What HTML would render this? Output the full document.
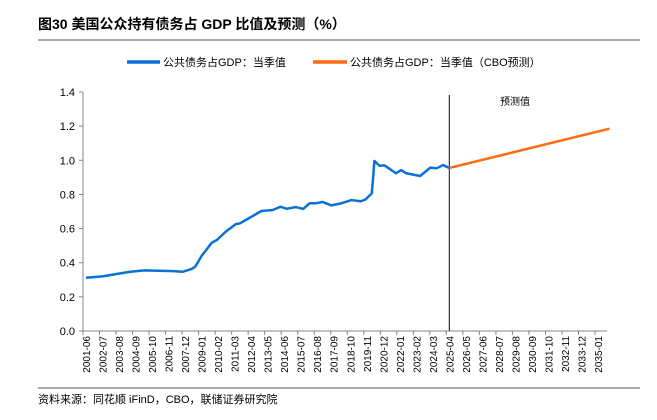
<!DOCTYPE html>
<html><head><meta charset="utf-8"><style>
body{margin:0;background:#fff;width:657px;height:415px;overflow:hidden;font-family:"Liberation Sans","Noto Sans CJK SC",sans-serif;}
svg text{font-family:"Liberation Sans","Noto Sans CJK SC",sans-serif;}
</style></head><body>
<svg id="c" width="657" height="415">
<text x="38" y="29" font-size="14" font-weight="bold" fill="#000">图30 美国公众持有债务占 GDP 比值及预测（%）</text>
<line x1="38" y1="40" x2="640" y2="40" stroke="#555" stroke-width="1"/>
<line x1="38" y1="388" x2="640" y2="388" stroke="#555" stroke-width="1"/>
<text x="38" y="403" font-size="11" fill="#000">资料来源：同花顺 iFinD，CBO，联储证券研究院</text>
<g>
<line x1="127" y1="62" x2="160" y2="62" stroke="#0a72d6" stroke-width="3.5"/>
<text x="163" y="66" font-size="11">公共债务占GDP：当季值</text>
<line x1="313" y1="62" x2="347" y2="62" stroke="#ff6a13" stroke-width="3.5"/>
<text x="350" y="66" font-size="11">公共债务占GDP：当季值（CBO预测）</text>
</g>
<text x="500" y="105" font-size="10">预测值</text>
<g id="plot"></g>
</svg>
<script>
const actualDates=["2001-06","2002-07","2003-06","2004-05","2005-04","2007-03","2007-10","2008-05","2008-08","2009-01","2009-09","2010-01","2010-08","2011-04","2011-07","2012-03","2012-12","2013-09","2014-03","2014-08","2015-03","2015-09","2016-02","2016-07","2016-12","2017-07","2018-02","2018-11","2019-06","2019-10","2020-03","2020-05","2020-09","2021-01","2021-10","2022-02","2022-06","2023-05","2024-01","2024-06","2024-11","2025-04"];
const actualValues=[0.312,0.32,0.334,0.347,0.355,0.351,0.347,0.363,0.377,0.44,0.517,0.533,0.582,0.627,0.63,0.664,0.703,0.709,0.728,0.716,0.726,0.715,0.748,0.748,0.756,0.736,0.746,0.767,0.76,0.77,0.807,0.996,0.968,0.97,0.924,0.943,0.924,0.908,0.957,0.953,0.972,0.955];
const forecastDates=["2025-04","2035-10"];
const forecastValues=[0.955,1.185];
const forecastStart="2025-04";
const yTicks=[0,0.2,0.4,0.6,0.8,1.0,1.2,1.4];
const xTickLabels=[];
for(let i=0;i<32;i++){const m=5+i*13;xTickLabels.push((2001+Math.floor(m/12))+"-"+String(m%12+1).padStart(2,"0"));}
const NS="http://www.w3.org/2000/svg";
const L=83,R=607,T=92,B=331,yMax=1.4;
function mi(d){const[y,m]=d.split("-").map(Number);return (y-2001)*12+(m-6);}
const mScale=(598-86)/(31*13);
const X=d=>86+mi(d)*mScale;
const Y=v=>B-(v/yMax)*(B-T);
const g=document.getElementById("plot");
function el(t,a){const e=document.createElementNS(NS,t);for(const k in a)e.setAttribute(k,a[k]);g.appendChild(e);return e;}
let e=el("line",{x1:L,y1:T,x2:L,y2:B,stroke:"#888"});


e=el("line",{x1:L,y1:B,x2:R,y2:B,stroke:"#888"});


yTicks.forEach(v=>{
 let t=el("line",{x1:L-4,y1:Y(v),x2:L,y2:Y(v),stroke:"#888"});
 
 
 let s=el("text",{x:L-8,y:Y(v)+4,"font-size":11,"text-anchor":"end"});s.textContent=v.toFixed(1);
 
 
});
xTickLabels.forEach((d,i)=>{
 const x=X(d);
 let t=el("line",{x1:x-3,y1:B,x2:x-3,y2:B+4,stroke:"#888"});
 
 
 let s=el("text",{x:0,y:0,"font-size":10,"text-anchor":"end",transform:`translate(${x+4},${B+5}) rotate(-90)`});s.textContent=d;
 
 
});
const vx=X(forecastStart);
e=el("line",{x1:vx,y1:T+3,x2:vx,y2:B,stroke:"#333","stroke-width":1.2});


e=el("polyline",{points:actualDates.map((d,i)=>X(d)+","+Y(actualValues[i])).join(" "),fill:"none",stroke:"#0a72d6","stroke-width":2.5,"stroke-linejoin":"round"});


e=el("polyline",{points:forecastDates.map((d,i)=>X(d)+","+Y(forecastValues[i])).join(" "),fill:"none",stroke:"#ff6a13","stroke-width":2.5});


</script>
</body></html>
